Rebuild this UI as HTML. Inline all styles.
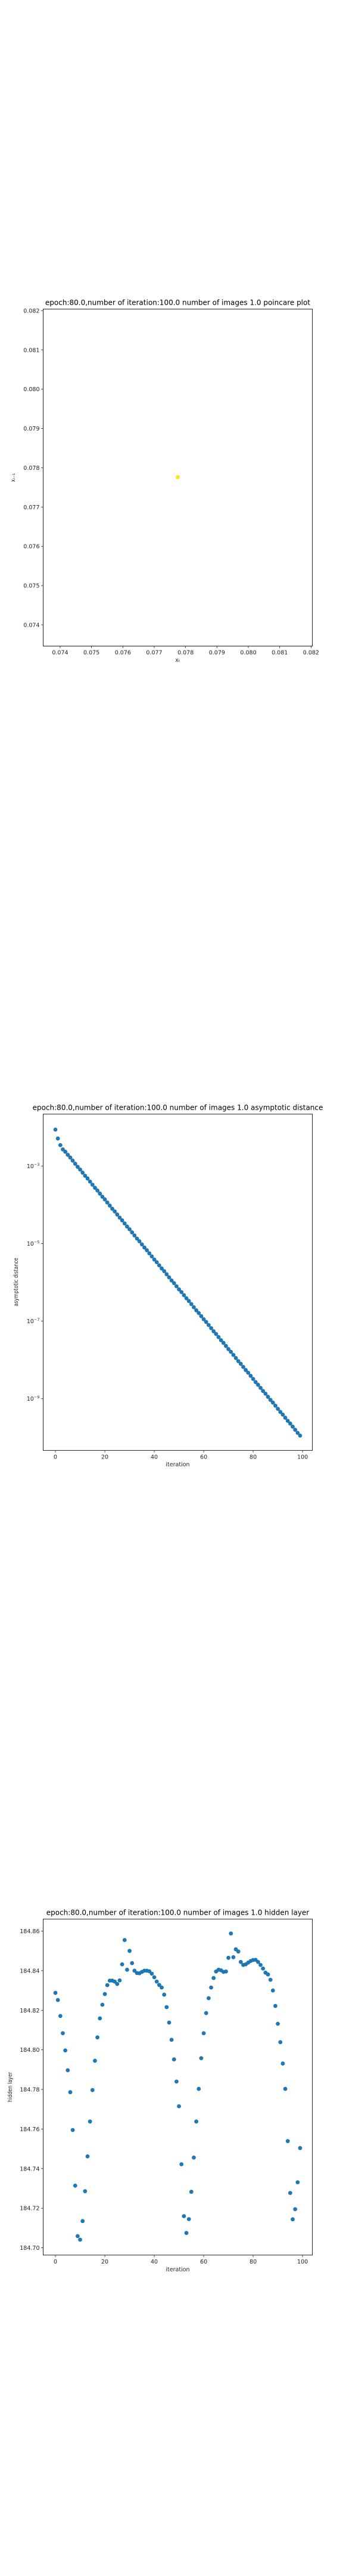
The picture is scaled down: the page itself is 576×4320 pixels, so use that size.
<!DOCTYPE html>
<html><head><meta charset="utf-8"><style>
html,body{margin:0;padding:0;background:#fff;}
svg{display:block;font-family:"DejaVu Sans","Liberation Sans",sans-serif;}
</style></head><body>
<svg id="fig" width="576" height="4320" viewBox="0 0 576 4320" xmlns="http://www.w3.org/2000/svg">
<rect width="576" height="4320" fill="#fff"/>
<g id="c1"></g>
<g id="c2"></g>
<g id="c3"></g>
</svg>
<script>
// ---- Chart 1 data ----
const poincareX = [0.07775];
const poincareY = [0.07776];
const poincareTicks = [0.074,0.075,0.076,0.077,0.078,0.079,0.080,0.081,0.082];
// ---- Chart 2 data ----
const iterations = Array.from({length:100},(_, i)=>i);
const logDistance = [-2.06,-2.29,-2.46,-2.57,-2.63,-2.71,-2.78,-2.86,-2.94,-3.02,-3.09,-3.17,-3.25,-3.32,-3.40,-3.48,-3.56,-3.63,-3.71,-3.79,-3.86,-3.94,-4.02,-4.10,-4.17,-4.25,-4.33,-4.40,-4.48,-4.56,-4.63,-4.71,-4.79,-4.87,-4.94,-5.02,-5.10,-5.17,-5.25,-5.33,-5.41,-5.48,-5.56,-5.64,-5.71,-5.79,-5.87,-5.95,-6.02,-6.10,-6.18,-6.25,-6.33,-6.41,-6.48,-6.56,-6.64,-6.72,-6.79,-6.87,-6.95,-7.02,-7.10,-7.18,-7.26,-7.33,-7.41,-7.49,-7.56,-7.64,-7.72,-7.79,-7.87,-7.95,-8.03,-8.10,-8.18,-8.26,-8.33,-8.41,-8.49,-8.57,-8.64,-8.72,-8.80,-8.87,-8.95,-9.03,-9.10,-9.18,-9.26,-9.34,-9.41,-9.49,-9.57,-9.64,-9.72,-9.80,-9.88,-9.95];
const logTicks = [-3,-5,-7,-9];
const iterTicks = [0,20,40,60,80,100];
// ---- Chart 3 data ----
const hidden = [184.8288,184.8252,184.8171,184.8084,184.7997,184.7897,184.7786,184.7595,184.7314,184.7059,184.7041,184.7135,184.7286,184.7462,184.7638,184.7797,184.7945,184.8063,184.8159,184.8228,184.8282,184.8327,184.8350,184.8350,184.8345,184.8333,184.8351,184.8432,184.8555,184.8405,184.8500,184.8438,184.8400,184.8388,184.8387,184.8394,184.8400,184.8400,184.8397,184.8385,184.8367,184.8345,184.8328,184.8315,184.8279,184.8216,184.8138,184.8051,184.7952,184.7840,184.7715,184.7422,184.7160,184.7075,184.7145,184.7283,184.7456,184.7638,184.7803,184.7958,184.8084,184.8186,184.8261,184.8315,184.8363,184.8396,184.8405,184.8402,184.8394,184.8396,184.8465,184.8588,184.8468,184.8508,184.8497,184.8444,184.8429,184.8432,184.8441,184.8449,184.8454,184.8455,184.8444,184.8429,184.8411,184.8390,184.8381,184.8354,184.8300,184.8222,184.8132,184.8039,184.7931,184.7803,184.7539,184.7277,184.7144,184.7195,184.7331,184.7504];
const hiddenTicks = [184.70,184.72,184.74,184.76,184.78,184.80,184.82,184.84,184.86];

const NS="http://www.w3.org/2000/svg";
function mk(parent,tag,attrs,text){const e=document.createElementNS(NS,tag);for(const k in attrs)e.setAttribute(k,attrs[k]);if(text!==undefined)e.textContent=text;parent.appendChild(e);return e;}
function lin(d0,d1,r0,r1){return v=>r0+(v-d0)*(r1-r0)/(d1-d0);}
const L=72.5,R=524.5;

function frame(g,top,bottom,title,titleY){
  const t=mk(g,'text',{x:(L+R)/2,y:titleY+4,'text-anchor':'middle','font-size':'12'},title);
  
  
  const r=mk(g,'rect',{x:L,y:top,width:R-L,height:bottom-top,fill:'none',stroke:'#222','stroke-width':'1'});
  
  
}
function ytick(g,y,label){
  const l=mk(g,'line',{x1:L-3.5,x2:L,y1:y,y2:y,stroke:'#222','stroke-width':'0.8'});
  
  
  const t=mk(g,'text',{x:L-6,y:y+3.5,'text-anchor':'end','font-size':'9.5',fill:'#222'},label);
  
  
  return t;
}
function xtick(g,x,bottom,label){
  const l=mk(g,'line',{x1:x,x2:x,y1:bottom,y2:bottom+3.5,stroke:'#222','stroke-width':'0.8'});
  
  
  const t=mk(g,'text',{x:x,y:bottom+14,'text-anchor':'middle','font-size':'9.5',fill:'#222'},label);
  
  
}
function ylab(g,x,y,label){
  const t=mk(g,'text',{x:0,y:0,'text-anchor':'middle','font-size':'9.5',fill:'#222',transform:`translate(${x},${y}) rotate(-90) scale(0.85,1)`},label);
  
  
}
function xlab(g,y,label){
  const t=mk(g,'text',{x:(L+R)/2,y:y,'text-anchor':'middle','font-size':'9.5',fill:'#222'},label);
  
  
}

// ---- Chart 1 ----
(function(){
  const g=document.getElementById('c1');const top=518.3,bottom=1083.5;
  frame(g,top,bottom,'epoch:80.0,number of iteration:100.0 number of images 1.0 poincare plot',507.5);
  const xs=lin(0.07346,0.08204,L,R), ys=lin(0.07346,0.08204,bottom,top);
  poincareTicks.forEach(v=>{ytick(g,ys(v),v.toFixed(3));xtick(g,xs(v),bottom,v.toFixed(3));});
  ylab(g,25,801,'x\u209C\u208B\u2081');
  xlab(g,1110,'x\u209C');
  poincareX.forEach((x,i)=>{
    const c=mk(g,'circle',{cx:xs(x),cy:ys(poincareY[i]),r:3.5,fill:'#fde725'});
    
    
  });
})();

// ---- Chart 2 ----
(function(){
  const g=document.getElementById('c2');const top=1868.3,bottom=2432.4;
  frame(g,top,bottom,'epoch:80.0,number of iteration:100.0  number of images 1.0 asymptotic distance',1857.7);
  const xs=lin(-4.95,103.95,L,R), ys=lin(-3,-9,1955.5,2345.7);
  logTicks.forEach(v=>{
    const t=ytick(g,ys(v),'10');
    const s=mk(t,'tspan',{dy:'-4','font-size':'6.5'},'\u2212'+Math.abs(v));
  });
  iterTicks.forEach(v=>xtick(g,xs(v),bottom,String(v)));
  ylab(g,30,2150,'asymptotic distance');
  xlab(g,2459,'iteration');
  iterations.forEach((it,i)=>{
    const c=mk(g,'circle',{cx:xs(it),cy:ys(logDistance[i]),r:3.4,fill:'#1f77b4'});
    
    
  });
})();

// ---- Chart 3 ----
(function(){
  const g=document.getElementById('c3');const top=3218.3,bottom=3781.8;
  frame(g,top,bottom,'epoch:80.0,number of iteration:100.0  number of images 1.0 hidden layer',3207.7);
  const xs=lin(-4.95,103.95,L,R), ys=lin(184.70,184.86,3769.6,3238.5);
  hiddenTicks.forEach(v=>ytick(g,ys(v),v.toFixed(2)));
  iterTicks.forEach(v=>xtick(g,xs(v),bottom,String(v)));
  ylab(g,20,3500,'hidden layer');
  xlab(g,3809,'iteration');
  hidden.forEach((v,i)=>{
    const c=mk(g,'circle',{cx:xs(iterations[i]),cy:ys(v),r:3.4,fill:'#1f77b4'});
    
    
  });
})();
</script>
</body></html>
